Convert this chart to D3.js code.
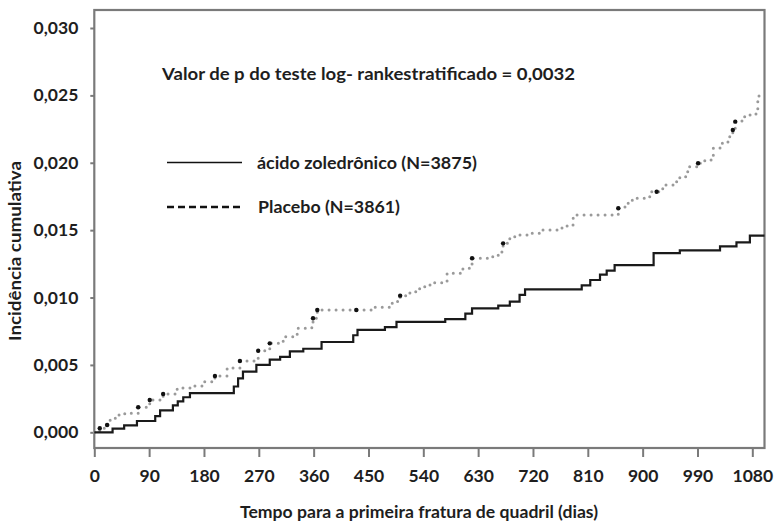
<!DOCTYPE html>
<html>
<head>
<meta charset="utf-8">
<script src="https://cdn.jsdelivr.net/npm/d3@7"></script>
<style>
  html, body { margin: 0; padding: 0; background: #ffffff; }
  svg { display: block; }
  text { font-family: Lato, "Open Sans", sans-serif; font-weight: 700; fill: #1e1e1e; }
</style>
</head>
<body>
<svg id="chart" width="777" height="523"></svg>
<script>
// ---- data ----
const xTicks = [0, 90, 180, 270, 360, 450, 540, 630, 720, 810, 900, 990, 1080];
const yTicks = [0, 0.005, 0.010, 0.015, 0.020, 0.025, 0.030];

const zoledronicDays = [0, 30, 49, 70, 100, 108, 129, 137, 146, 157, 229, 236, 244, 266, 288, 305, 321, 343, 373, 425, 432, 477, 496, 576, 609, 620, 663, 682, 698, 707, 800, 814, 830, 841, 854, 918, 961, 1027, 1054, 1076, 1100];
const zoledronicValues = [0, 0.00027, 0.00052, 0.00084, 0.0012, 0.00163, 0.0020, 0.0023, 0.0026, 0.0029, 0.0034, 0.0040, 0.0045, 0.0050, 0.0054, 0.0056, 0.0060, 0.0062, 0.0067, 0.0072, 0.0076, 0.0078, 0.0082, 0.0084, 0.0088, 0.0092, 0.0094, 0.0097, 0.0102, 0.0106, 0.0109, 0.0113, 0.0117, 0.0120, 0.0124, 0.0133, 0.0135, 0.0138, 0.0141, 0.0146, 0.0146];

const placeboDays = [0, 9, 21, 26, 37, 50, 72, 91, 113, 136, 157, 178, 198, 218, 239, 269, 288, 310, 333, 357, 359, 366, 457, 489, 502, 518, 534, 551, 579, 605, 620, 654, 669, 671, 682, 695, 715, 731, 764, 776, 786, 860, 871, 883, 904, 915, 933, 950, 961, 974, 991, 1002, 1014, 1016, 1027, 1040, 1048, 1052, 1063, 1076, 1086, 1089, 1091];
const placeboValues = [0, 0.0003, 0.00054, 0.00104, 0.00128, 0.00141, 0.00186, 0.0024, 0.00284, 0.00329, 0.00344, 0.00375, 0.00418, 0.00477, 0.00529, 0.00605, 0.0066, 0.00709, 0.00772, 0.00811, 0.00846, 0.00907, 0.00928, 0.0097, 0.01014, 0.01043, 0.0108, 0.0111, 0.0118, 0.01217, 0.01291, 0.01314, 0.01365, 0.01402, 0.01451, 0.01464, 0.01477, 0.01501, 0.01516, 0.01538, 0.01612, 0.01663, 0.0170, 0.01737, 0.01748, 0.01785, 0.01835, 0.0186, 0.01897, 0.01971, 0.01996, 0.0202, 0.02035, 0.02107, 0.02144, 0.02193, 0.02243, 0.02305, 0.02342, 0.02354, 0.02391, 0.02453, 0.02515];

const placeboMarkDays = [9, 21, 72, 91, 113, 198, 239, 269, 288, 359, 366, 430, 502, 620, 671, 860, 923, 991, 1048, 1052];

const seriesNames = ["ácido zoledrônico (N=3875)", "Placebo (N=3861)"];
const annotation = "Valor de p do teste log- rankestratificado = 0,0032";
const xTitle = "Tempo para a primeira fratura de quadril (dias)";
const yTitle = "Incidência cumulativa";

// ---- layout ----
const plotLeft = 94.3, plotRight = 764.5, plotTop = 10, axisY = 448;
const x = d3.scaleLinear().domain([0, 1100]).range([plotLeft, plotRight]);
const y = d3.scaleLinear().domain([0, 0.03]).range([432.3, 28]);

const svg = d3.select("#chart");
const FS = "17.5px";

// frame
svg.append("rect")
  .attr("x", plotLeft).attr("y", plotTop)
  .attr("width", plotRight - plotLeft).attr("height", axisY - plotTop)
  .attr("fill", "none").attr("stroke", "#7a7a7a").attr("stroke-width", 2.2);

// y axis
const yAxis = d3.axisLeft(y).tickValues(yTicks).tickSize(4).tickPadding(12)
  .tickFormat(d => d3.format(".3f")(d).replace(".", ","));
const gy = svg.append("g").attr("transform", `translate(${plotLeft},0)`).call(yAxis);
gy.select(".domain").remove();
gy.selectAll(".tick line").attr("stroke", "#7a7a7a").attr("stroke-width", 2);
gy.selectAll(".tick text").style("font-size", FS).style("font-family", "Lato, sans-serif").style("font-weight", 700).attr("fill", "#1e1e1e");

// x axis
const xAxis = d3.axisBottom(x).tickValues(xTicks).tickSize(9).tickPadding(13)
  .tickFormat(d3.format("d"));
const gx = svg.append("g").attr("transform", `translate(0,${axisY})`).call(xAxis);
gx.select(".domain").remove();
gx.selectAll(".tick line").attr("stroke", "#7a7a7a").attr("stroke-width", 2);
gx.selectAll(".tick text").style("font-size", FS).style("font-family", "Lato, sans-serif").style("font-weight", 700).attr("fill", "#1e1e1e");

// lines
const line = d3.line().curve(d3.curveStepAfter).x(d => x(d[0])).y(d => y(d[1]));
const zolData = zoledronicDays.map((d, i) => [d, zoledronicValues[i]]);
const plaData = placeboDays.map((d, i) => [d, placeboValues[i]]);

svg.append("path").datum(plaData).attr("d", line)
  .attr("fill", "none").attr("stroke", "#9a9a9a").attr("stroke-width", 3)
  .attr("stroke-linecap", "round").attr("stroke-dasharray", "0,7");

function placeboAt(day) {
  let v = 0;
  for (let i = 0; i < placeboDays.length; i++) { if (placeboDays[i] <= day) v = placeboValues[i]; }
  return v;
}
svg.append("g").selectAll("circle").data(placeboMarkDays).join("circle")
  .attr("cx", d => x(d)).attr("cy", d => y(placeboAt(d))).attr("r", 2.2).attr("fill", "#111");

svg.append("path").datum(zolData).attr("d", line)
  .attr("fill", "none").attr("stroke", "#1a1a1a").attr("stroke-width", 2.2);

// annotation
svg.append("text").attr("x", 162).attr("y", 79.5).style("font-size", FS)
  .attr("textLength", 413).attr("lengthAdjust", "spacingAndGlyphs").text(annotation);

// legend
svg.append("line").attr("x1", 167).attr("x2", 242).attr("y1", 162.5).attr("y2", 162.5)
  .attr("stroke", "#111").attr("stroke-width", 1.6);
svg.append("text").attr("x", 257).attr("y", 168.5).style("font-size", FS)
  .attr("textLength", 220).attr("lengthAdjust", "spacingAndGlyphs").text(seriesNames[0]);
svg.append("line").attr("x1", 167).attr("x2", 243).attr("y1", 207).attr("y2", 207)
  .attr("stroke", "#111").attr("stroke-width", 2.6).attr("stroke-dasharray", "7,4");
svg.append("text").attr("x", 258).attr("y", 213).style("font-size", FS)
  .attr("textLength", 142).attr("lengthAdjust", "spacingAndGlyphs").text(seriesNames[1]);

// axis titles
svg.append("text").attr("x", 419).attr("y", 518).attr("text-anchor", "middle")
  .style("font-size", FS).attr("textLength", 358).attr("lengthAdjust", "spacingAndGlyphs").text(xTitle);
svg.append("text").attr("transform", "translate(21,251) rotate(-90)").attr("text-anchor", "middle")
  .style("font-size", FS).attr("textLength", 180).attr("lengthAdjust", "spacingAndGlyphs").text(yTitle);
</script>
</body>
</html>
